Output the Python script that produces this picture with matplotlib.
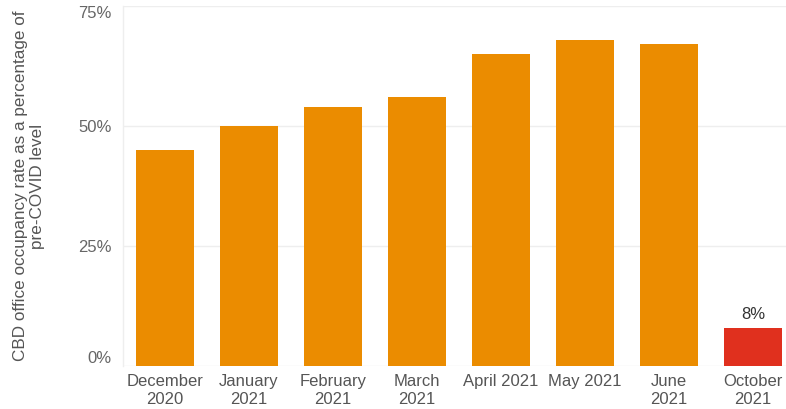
import matplotlib
matplotlib.use("Agg")
import matplotlib.pyplot as plt

categories = ["December\n2020", "January\n2021", "February\n2021", "March\n2021",
              "April 2021", "May 2021", "June\n2021", "October\n2021"]
values = [45, 50, 54, 56, 65, 68, 67, 8]
highlight = [False, False, False, False, False, False, False, True]
yticks = [0, 25, 50, 75]
ytick_labels = ["0%", "25%", "50%", "75%"]

plt.rcParams['font.family'] = ['Liberation Sans', 'DejaVu Sans']

W, H = 786, 409
fig = plt.figure(figsize=(W / 100, H / 100), dpi=100)
left, right, top, bottom = 123, 795, 6, 366
ax = fig.add_axes([left / W, 1 - bottom / H, (right - left) / W, (bottom - top) / H])

orange = "#EB8C00"
red = "#E0301E"
colors = [red if h else orange for h in highlight]
x = list(range(len(categories)))
ax.bar(x, values, width=0.69, color=colors, zorder=3)

ax.set_xlim(-0.5, len(categories) - 0.5)
ax.set_ylim(0, 75)
ax.set_yticks(yticks)
ax.set_yticklabels(ytick_labels)
ax.set_xticks(x)
ax.set_xticklabels(categories, linespacing=1.22)

for lbl, t in zip(ax.get_yticklabels(), yticks):
    if t == 0:
        lbl.set_va('bottom')
    elif t == 75:
        lbl.set_va('top')

ax.tick_params(axis='y', length=0, pad=8, labelsize=12, labelcolor="#666666")
ax.tick_params(axis='x', length=0, pad=6, labelsize=12, labelcolor="#555555")

ax.grid(axis='y', color="#eeeeee", linewidth=1, zorder=0)
for s in ["top", "right", "bottom"]:
    ax.spines[s].set_visible(False)
ax.spines["left"].set_color("#eeeeee")
ax.spines["left"].set_linewidth(1)

for xi, v, h in zip(x, values, highlight):
    if h:
        ax.annotate(f"{v}%", (xi, v), xytext=(0, 4), textcoords="offset points",
                    ha="center", va="bottom", fontsize=12, color="#333333")

fig.text(29 / W, 1 - 186 / H, "CBD office occupancy rate as a percentage of\npre-COVID level",
         rotation=90, ha="center", va="center", fontsize=12.3, color="#555555",
         linespacing=1.1)

fig.savefig("out.png", dpi=100)
